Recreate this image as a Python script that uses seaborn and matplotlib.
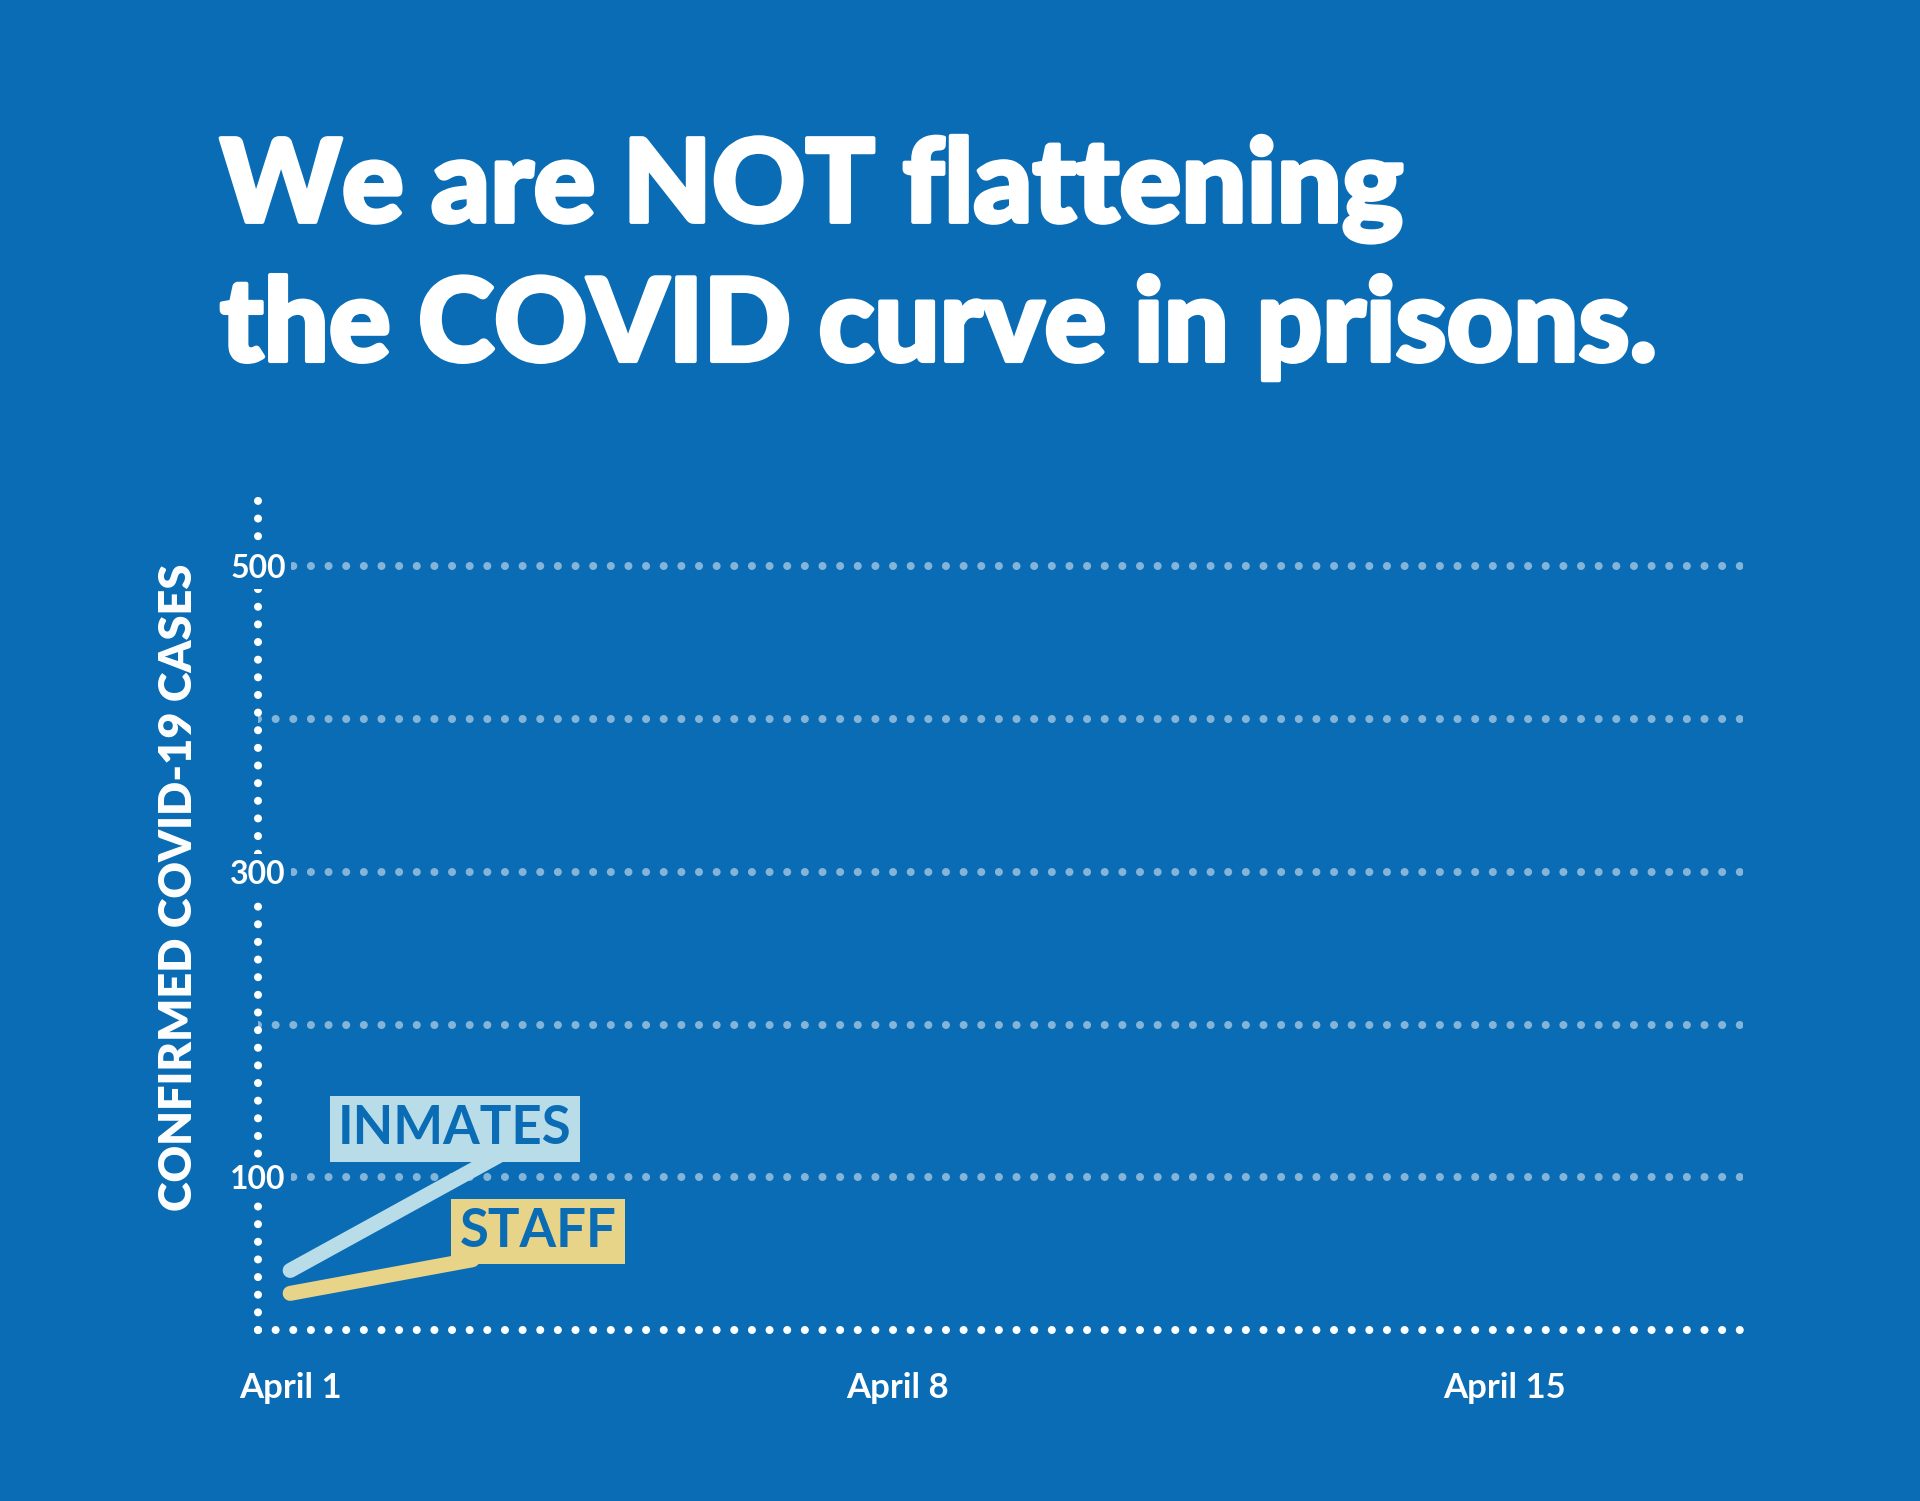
import pandas as pd
import numpy as np
import seaborn as sns
import matplotlib.pyplot as plt
import matplotlib.patheffects as pe

# values (x = days since April 1)
inmate_days = [0, 2.4]
inmate_cases = [39, 114]
staff_days = [0, 2.1]
staff_cases = [24, 46]
grid_levels = [100, 200, 300, 400, 500]
y_labels = ["100", "", "300", "", "500"]
date_ticks = [0, 7, 14]
date_labels = ["April 1", "April 8", "April 15"]

bg = "#096cb4"
colors = {"INMATES": "#b8dde9", "STAFF": "#e8d488"}

df = pd.concat([
    pd.DataFrame({"day": inmate_days, "cases": inmate_cases, "group": "INMATES"}),
    pd.DataFrame({"day": staff_days, "cases": staff_cases, "group": "STAFF"}),
])

sns.set_theme(style="white")
plt.rcParams["font.family"] = ["Lato", "DejaVu Sans"]
plt.rcParams["lines.scale_dashes"] = False
plt.rcParams["lines.dash_capstyle"] = "round"
dots = (0, (0.001, 12.7))

fig = plt.figure(figsize=(19.2, 15.01), dpi=100, facecolor=bg)
ax = fig.add_axes([0.1344, 0.1139, 0.908 - 0.1344, 0.6716 - 0.1139])
ax.set_facecolor(bg)
ax.set_axisbelow(False)

xmin, xmax = -0.37, 16.75
ax.set_xlim(xmin, xmax)
ax.set_ylim(0, 548)

sns.lineplot(data=df, x="day", y="cases", hue="group", palette=colors,
             linewidth=10.8, solid_capstyle="round", legend=False, ax=ax, zorder=4)

for s in ax.spines.values():
    s.set_visible(False)

ax.axvline(xmin, color="white", linewidth=5.8, linestyle=dots, clip_on=False, zorder=1)
ax.axhline(0, color="white", linewidth=5.8, linestyle=dots, clip_on=False, zorder=1)

ax.set_yticks(grid_levels, y_labels)
ax.yaxis.grid(True, color="white", alpha=0.5, linewidth=5.8, linestyle=dots)
ax.tick_params(axis="y", length=0, pad=0, labelsize=23, labelcolor="white")

ax.set_xticks(date_ticks, date_labels)
ax.tick_params(axis="x", length=0, pad=30, labelsize=25, labelcolor="white")

ax.set_xlabel("")
ax.set_ylabel("CONFIRMED COVID-19 CASES", color="white", fontsize=32.5,
              fontweight="heavy")
ax.yaxis.set_label_coords(-0.040, 0.5286)

ax.text(1.9, 131.7, "INMATES", color=bg, fontsize=38, fontweight="bold",
        ha="center", va="center", zorder=5,
        bbox=dict(facecolor=colors["INMATES"], edgecolor="none", pad=6))
ax.text(2.86, 64.5, "STAFF", color=bg, fontsize=38, fontweight="bold",
        ha="center", va="center", zorder=5,
        bbox=dict(facecolor=colors["STAFF"], edgecolor="none", pad=6))

fig.text(0.1146, 0.7595, "We are NOT flattening\nthe COVID curve in prisons.",
         color="white", fontsize=83, fontweight="black", ha="left", va="baseline",
         linespacing=1.39,
         path_effects=[pe.withStroke(linewidth=3, foreground="white")])

# tick label styling after the ticks are final
fig.canvas.draw()
for lbl in ax.get_yticklabels():
    lbl.set_horizontalalignment("center")
    lbl.set_fontweight("bold")
    lbl.set_bbox(dict(facecolor=bg, edgecolor="none", pad=4))
for lbl in ax.get_xticklabels():
    lbl.set_fontweight("bold")

fig.savefig("out.png", dpi=100, facecolor=bg)
